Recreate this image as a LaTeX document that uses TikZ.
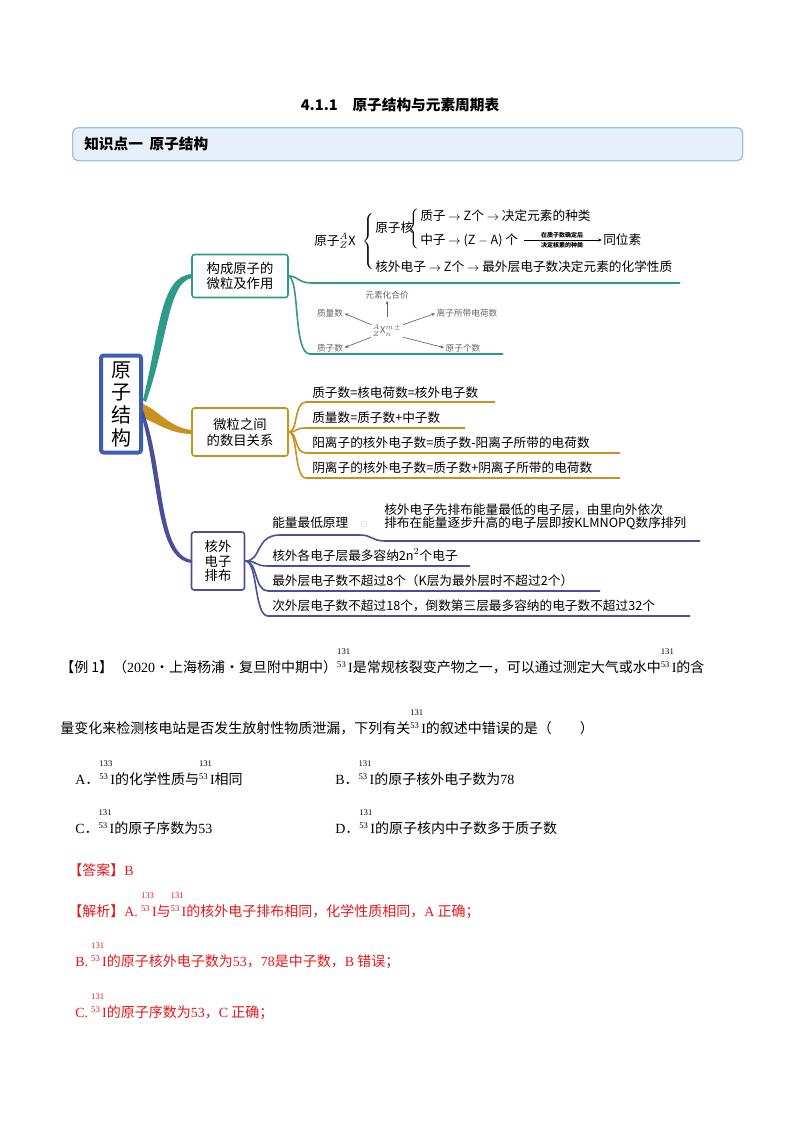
\documentclass[tikz,border=0pt]{standalone}
\usepackage{fontspec}
\setmainfont{Noto Sans CJK SC}
\newfontfamily\serif{Liberation Serif}
\usetikzlibrary{arrows.meta}
\definecolor{teal1}{HTML}{2E9A88}
\definecolor{gold1}{HTML}{C9921C}
\definecolor{blu1}{HTML}{4A4F9A}
\definecolor{ctr}{HTML}{3D5DB8}
\definecolor{hdrfill}{HTML}{E6EFFA}
\definecolor{hdrline}{HTML}{9CC2E8}
\definecolor{ans}{HTML}{E8151B}
\newcommand\fs[1]{\fontsize{#1}{#1}\selectfont}
\newcommand\isoI[2]{\makebox[0pt][l]{\raisebox{1.25em}{\fs{6.5}{\serif #1}}}\raisebox{0.35em}{\fs{6.5}{\serif #2}}\,{\serif I}}
\newcommand\bigbr[1]{$\left\{\vcenter{\hbox{\rule{0pt}{#1}}}\right.$}
\tikzset{
 txt/.style={anchor=base west,inner sep=0pt,font=\fs{10.5}},
 mm/.style={anchor=base west,inner sep=0pt,font=\fs{9.5}},
 tiny/.style={inner sep=0pt,font=\fs{6.5},text=gray!80!black},
 bx/.style={draw,line width=1.2pt,rounded corners=2pt,align=center,font=\fs{10},inner sep=3pt},
 ln/.style={line width=1.2pt},
 ar/.style={-{Stealth[length=3pt]},line width=0.5pt,gray!80!black,shorten <=1pt,shorten >=1pt}
}
\begin{document}
\begin{tikzpicture}[x=0.75pt,y=-0.75pt]
\useasboundingbox (0,0) rectangle (800,1132);
% title and header
\node[anchor=base,inner sep=0pt,font=\fs{11}\bfseries] (title) at (400,110) {4.1.1\quad 原子结构与元素周期表};
\node[draw=hdrline,fill=hdrfill,rounded corners=4pt,line width=1pt,minimum width=670*0.75pt,minimum height=33*0.75pt,anchor=north west] (hdr) at (72,127) {};
\node[anchor=west,inner sep=0pt,font=\fs{11}\bfseries] (hdrt) at (84,144) {知识点一\ \ 原子结构};
% center node
\node[draw=ctr,line width=3pt,rounded corners=2pt,minimum width=40*0.75pt,minimum height=97*0.75pt,align=center,font=\fs{15},inner sep=2pt] (ctrn) at (121,404) {原\\[2pt]子\\[2pt]结\\[2pt]构};
% branch boxes
\node[bx,draw=teal1,minimum width=96*0.75pt,minimum height=43*0.75pt] (b1) at (240,276) {构成原子的\\[1pt]微粒及作用};
\node[bx,draw=gold1,minimum width=96*0.75pt,minimum height=48*0.75pt] (b2) at (240,432) {微粒之间\\[2pt]的数目关系};
\node[bx,draw=blu1,minimum width=53*0.75pt,minimum height=58*0.75pt] (b3) at (218,561) {核外\\[1pt]电子\\[1pt]排布};
% tapered connectors
\fill[teal1] (143,400) .. controls (160,330) and (160,276) .. (192,274) -- (192,278) .. controls (168,282) and (168,340) .. (146,402) -- cycle;
\fill[gold1] (143,404) .. controls (158,410) and (170,428) .. (192,430) -- (192,434) .. controls (170,434) and (155,422) .. (143,418) -- cycle;
\fill[blu1] (143,410) .. controls (165,470) and (158,555) .. (192,560) -- (192,563) .. controls (155,560) and (160,480) .. (141,414) -- cycle;
% branch 1 lines
\draw[teal1,ln] (b1.east) .. controls (298,276) and (298,283) .. (312,283) -- (680,283);
\draw[teal1,ln] (b1.east) .. controls (300,280) and (293,354) .. (310,354) -- (503,354);
% formula block
\node[mm] (f0) at (314,245) {原子$^{A}_{Z}\mathit{X}$};
\node[inner sep=0pt] (br1) at (369,241) {\bigbr{40pt}};
\node[mm] (f1) at (375,232) {原子核};
\node[inner sep=0pt] (br2) at (415,229) {\bigbr{27pt}};
\node[mm] (f2) at (420,220) {质子 $\rightarrow$ $\mathit{Z}$个 $\rightarrow$ 决定元素的种类};
\node[mm] (f3) at (420,244) {中子 $\rightarrow$ ($\mathit{Z-A}$) 个};
\coordinate (a1) at (524,240);
\coordinate (a2) at (602,240);
\draw[-{Stealth[length=3pt]},line width=0.5pt] (a1) -- (a2);
\node[inner sep=0pt,font=\fs{4.5}\bfseries] (l1) at (562,235) {在质子数确定后};
\node[inner sep=0pt,font=\fs{4.5}\bfseries] (l2) at (562,245) {决定核素的种类};
\node[mm] (f4) at (603,244) {同位素};
\node[mm] (f5) at (375,271) {核外电子 $\rightarrow$ $\mathit{Z}$个 $\rightarrow$ 最外层电子数决定元素的化学性质};
% small diagram
\node[inner sep=0pt,font=\fs{7},text=gray!70!black] (xc) at (387,331) {$^{A}_{Z}\mathrm{X}^{m\pm}_{n}$};
\node[tiny] (t1) at (387,295) {元素化合价};
\node[tiny] (t2) at (330,313) {质量数};
\node[tiny] (t3) at (467,313) {离子所带电荷数};
\node[tiny] (t4) at (330,348) {质子数};
\node[tiny] (t5) at (463,348) {原子个数};
\draw[ar] (387,318) -- (t1.south);
\draw[ar] (xc.north west) -- (t2.east);
\draw[ar] (xc.north east) -- (t3.west);
\draw[ar] (xc.south west) -- (t4.east);
\draw[ar] (xc.south east) -- (t5.west);
% branch 2
\foreach \y/\e in {402/495,428/465,453/620,478/620}
  \draw[gold1,ln] (b2.east) .. controls (298,432) and (294,\y) .. (306,\y) -- (\e,\y);
\node[mm] (g1) at (312,397) {质子数=核电荷数=核外电子数};
\node[mm] (g2) at (312,422) {质量数=质子数+中子数};
\node[mm] (g3) at (312,447) {阳离子的核外电子数=质子数-阳离子所带的电荷数};
\node[mm] (g4) at (312,472) {阴离子的核外电子数=质子数+阴离子所带的电荷数};
% branch 3
\draw[blu1,ln] (b3.east) .. controls (262,561) and (255,535) .. (280,535) -- (360,535) .. controls (372,535) and (372,541) .. (385,541) -- (700,541);
\foreach \y/\e in {566/470,591/600,616/690}
  \draw[blu1,ln] (b3.east) .. controls (258,561) and (254,\y) .. (268,\y) -- (\e,\y);
\node[mm] (h0) at (272,527) {能量最低原理};
\node[inner sep=0pt,font=\fs{6},text=gray!50] (h0b) at (364,524) {$\ominus$};
\node[mm,align=left,anchor=north west] (h1) at (384,504) {核外电子先排布能量最低的电子层，由里向外依次\\排布在能量逐步升高的电子层即按KLMNOPQ数序排列};
\node[mm] (h2) at (272,560) {核外各电子层最多容纳2n$^{2}$个电子};
\node[mm] (h3) at (272,585) {最外层电子数不超过8个（K层为最外层时不超过2个）};
\node[mm] (h4) at (272,610) {次外层电子数不超过18个，倒数第三层最多容纳的电子数不超过32个};
% question
\node[txt] (q1) at (60,672) {【例 1】（{\serif 2020}·上海杨浦·复旦附中期中）\isoI{131}{53}是常规核裂变产物之一，可以通过测定大气或水中\isoI{131}{53}的含};
\node[txt] (q2) at (60,733) {量变化来检测核电站是否发生放射性物质泄漏，下列有关\isoI{131}{53}的叙述中错误的是（\qquad）};
\node[txt] (qa) at (75,784) {{\serif A}．\isoI{133}{53}的化学性质与\isoI{131}{53}相同};
\node[txt] (qb) at (335,784) {{\serif B}．\isoI{131}{53}的原子核外电子数为{\serif 78}};
\node[txt] (qc) at (75,833) {{\serif C}．\isoI{131}{53}的原子序数为{\serif 53}};
\node[txt] (qd) at (335,833) {{\serif D}．\isoI{131}{53}的原子核内中子数多于质子数};
\node[txt,text=ans] (an) at (68,875) {【答案】{\serif B}};
\node[txt,text=ans] (s1) at (68,916) {【解析】{\serif A.} \isoI{133}{53}与\isoI{131}{53}的核外电子排布相同，化学性质相同，{\serif A} 正确；};
\node[txt,text=ans] (s2) at (75,966) {{\serif B.} \isoI{131}{53}的原子核外电子数为{\serif 53}，{\serif 78}是中子数，{\serif B} 错误；};
\node[txt,text=ans] (s3) at (75,1017) {{\serif C.} \isoI{131}{53}的原子序数为{\serif 53}，{\serif C} 正确；};
\end{tikzpicture}
\end{document}
